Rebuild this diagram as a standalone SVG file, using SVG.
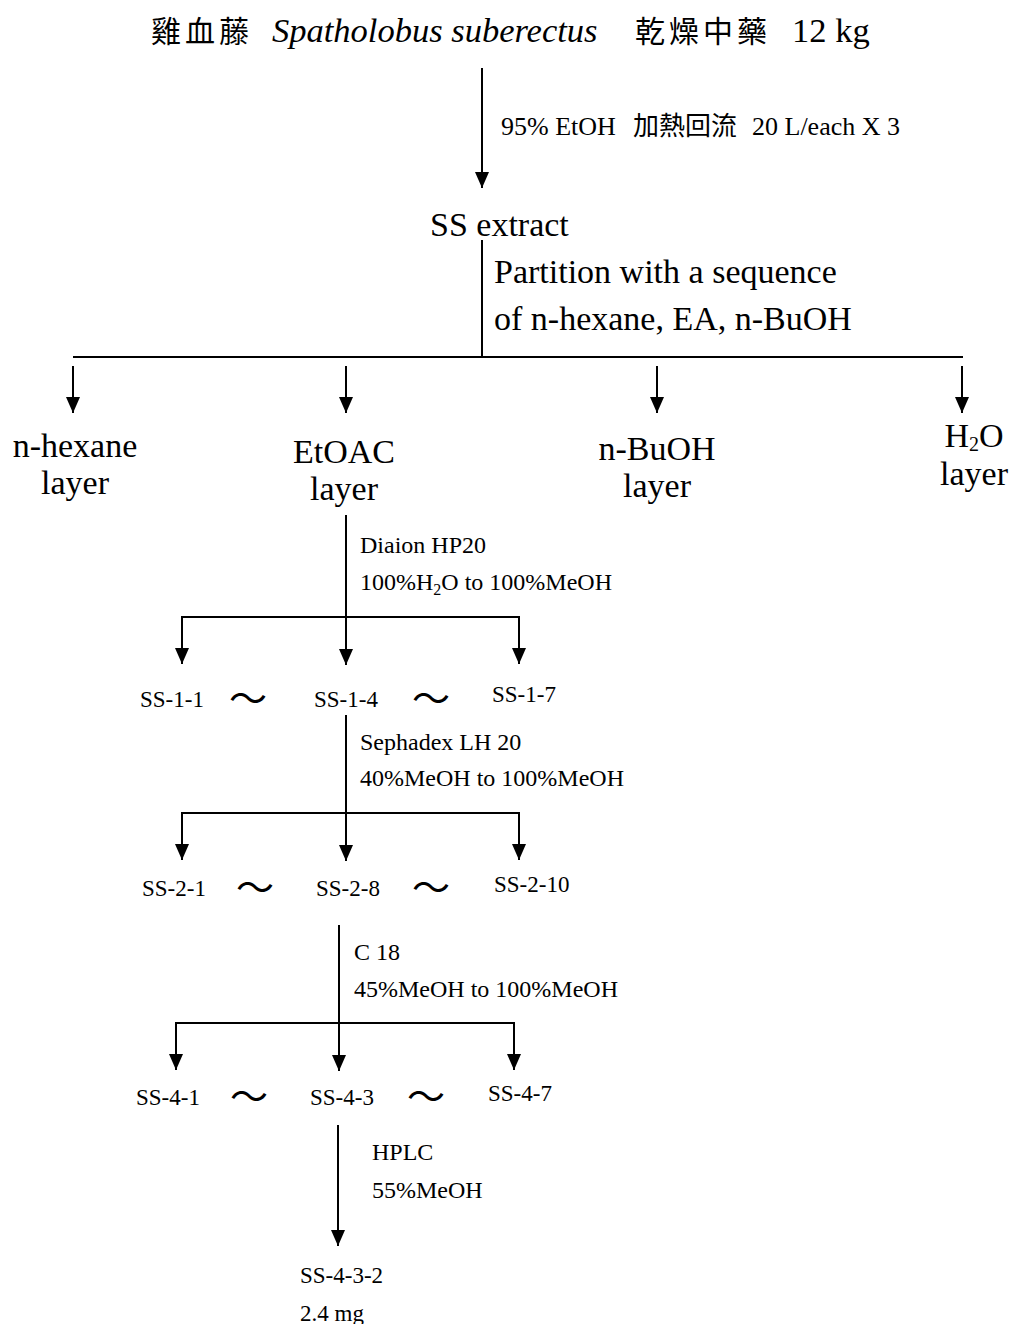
<svg xmlns="http://www.w3.org/2000/svg" width="1014" height="1324" viewBox="0 0 1014 1324">
<style>
text{font-family:"Liberation Serif","Noto Sans CJK TC",serif;fill:#000}
.t{font-size:34.5px}
.big{font-size:34px}
.mid{font-size:26px}
.sm{font-size:24px}
.ss{font-size:23px}
.cjk{font-family:"Noto Sans CJK TC","Liberation Serif",serif}
.tl{font-size:30px;font-family:"Noto Sans CJK TC","Liberation Serif",serif;letter-spacing:4px}
.til{font-size:38px;font-family:"Noto Sans CJK TC","Liberation Serif",serif}
</style>
<defs>
<marker id="ahd" markerUnits="userSpaceOnUse" markerWidth="16" markerHeight="18" refX="8" refY="17" orient="0" viewBox="0 0 16 18">
<path d="M1,1 L15,1 L8,17 Z" fill="#000"/>
</marker>
</defs>
<rect width="1014" height="1324" fill="#fff"/>
<g id="connectors" stroke="#000" stroke-width="2" fill="none">
<line x1="482" y1="68" x2="482" y2="188" marker-end="url(#ahd)"/>
<line x1="482" y1="240" x2="482" y2="357"/>
<line x1="73" y1="357" x2="963" y2="357"/>
<line x1="73" y1="366" x2="73" y2="413" marker-end="url(#ahd)"/>
<line x1="346" y1="366" x2="346" y2="413" marker-end="url(#ahd)"/>
<line x1="657" y1="366" x2="657" y2="413" marker-end="url(#ahd)"/>
<line x1="962" y1="366" x2="962" y2="413" marker-end="url(#ahd)"/>
<line x1="346" y1="515" x2="346" y2="665" marker-end="url(#ahd)"/>
<line x1="182" y1="617" x2="519" y2="617"/>
<line x1="182" y1="616" x2="182" y2="664" marker-end="url(#ahd)"/>
<line x1="519" y1="616" x2="519" y2="664" marker-end="url(#ahd)"/>
<line x1="346" y1="715" x2="346" y2="861" marker-end="url(#ahd)"/>
<line x1="182" y1="813" x2="519" y2="813"/>
<line x1="182" y1="812" x2="182" y2="860" marker-end="url(#ahd)"/>
<line x1="519" y1="812" x2="519" y2="860" marker-end="url(#ahd)"/>
<line x1="339" y1="925" x2="339" y2="1071" marker-end="url(#ahd)"/>
<line x1="176" y1="1023" x2="514" y2="1023"/>
<line x1="176" y1="1022" x2="176" y2="1070" marker-end="url(#ahd)"/>
<line x1="514" y1="1022" x2="514" y2="1070" marker-end="url(#ahd)"/>
<line x1="338" y1="1125" x2="338" y2="1246" marker-end="url(#ahd)"/>
</g>
<g id="title">
<text x="151" y="42" class="tl">雞血藤</text>
<text x="272" y="42" class="t" font-style="italic">Spatholobus suberectus</text>
<text x="635" y="42" class="tl">乾燥中藥</text>
<text x="792" y="42" class="t">12 kg</text>
</g>
<g id="step1-label">
<text x="501" y="135" class="mid">95% EtOH</text>
<text x="633" y="135" class="mid cjk" font-size="25">加熱回流</text>
<text x="752" y="135" class="mid">20 L/each X 3</text>
</g>
<g id="ss-extract"><text x="430" y="236" class="big">SS extract</text></g>
<g id="partition-label">
<text x="494" y="283" class="big">Partition with a sequence</text>
<text x="494" y="330" class="big">of n-hexane, EA, n-BuOH</text>
</g>
<g id="hexane" text-anchor="middle">
<text x="75" y="457" class="big">n-hexane</text>
<text x="75" y="494" class="big">layer</text>
</g>
<g id="etoac" text-anchor="middle">
<text x="344" y="463" class="big">EtOAC</text>
<text x="344" y="500" class="big">layer</text>
</g>
<g id="buoh" text-anchor="middle">
<text x="657" y="460" class="big">n-BuOH</text>
<text x="657" y="497" class="big">layer</text>
</g>
<g id="water" text-anchor="middle">
<text x="974" y="447" class="big">H<tspan font-size="20" dy="4">2</tspan><tspan dy="-4">O</tspan></text>
<text x="974" y="485" class="big">layer</text>
</g>
<g id="diaion-label">
<text x="360" y="553" class="sm">Diaion HP20</text>
<text x="360" y="590" class="sm">100%H<tspan font-size="16" dy="5">2</tspan><tspan dy="-5">O to 100%MeOH</tspan></text>
</g>
<g id="ss1">
<text x="140" y="707" class="ss">SS-1-1</text>
<text x="248" y="712" class="til" text-anchor="middle">～</text>
<text x="314" y="707" class="ss">SS-1-4</text>
<text x="431" y="712" class="til" text-anchor="middle">～</text>
<text x="492" y="702" class="ss">SS-1-7</text>
</g>
<g id="sephadex-label">
<text x="360" y="750" class="sm">Sephadex LH 20</text>
<text x="360" y="786" class="sm">40%MeOH to 100%MeOH</text>
</g>
<g id="ss2">
<text x="142" y="896" class="ss">SS-2-1</text>
<text x="255" y="901" class="til" text-anchor="middle">～</text>
<text x="316" y="896" class="ss">SS-2-8</text>
<text x="431" y="901" class="til" text-anchor="middle">～</text>
<text x="494" y="892" class="ss">SS-2-10</text>
</g>
<g id="c18-label">
<text x="354" y="960" class="sm">C 18</text>
<text x="354" y="997" class="sm">45%MeOH to 100%MeOH</text>
</g>
<g id="ss4">
<text x="136" y="1105" class="ss">SS-4-1</text>
<text x="249" y="1110" class="til" text-anchor="middle">～</text>
<text x="310" y="1105" class="ss">SS-4-3</text>
<text x="426" y="1110" class="til" text-anchor="middle">～</text>
<text x="488" y="1101" class="ss">SS-4-7</text>
</g>
<g id="hplc-label">
<text x="372" y="1160" class="sm">HPLC</text>
<text x="372" y="1198" class="sm">55%MeOH</text>
</g>
<g id="ss432">
<text x="300" y="1283" class="ss">SS-4-3-2</text>
<text x="300" y="1321" class="ss">2.4 mg</text>
</g>
</svg>
